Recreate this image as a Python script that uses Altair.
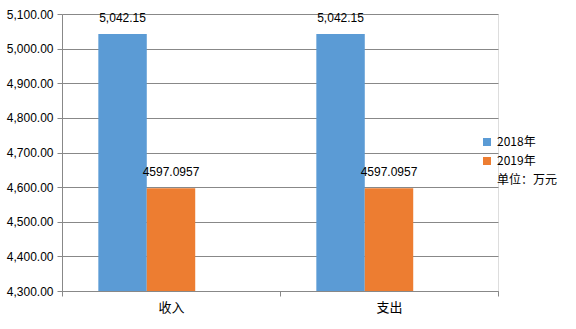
import altair as alt
import pandas as pd

categories = ["收入", "支出"]
series = ["2018年", "2019年", "单位：万元"]
values_2018 = [5042.15, 5042.15]
values_2019 = [4597.0957, 4597.0957]
labels_2018 = ["5,042.15", "5,042.15"]
labels_2019 = ["4597.0957", "4597.0957"]
y_ticks = [4300, 4400, 4500, 4600, 4700, 4800, 4900, 5000, 5100]
colors = ["#5B9BD5", "#ED7D31", "transparent"]

rows = []
for i, c in enumerate(categories):
    rows.append({"cat": c, "series": series[0], "value": values_2018[i], "label": labels_2018[i]})
    rows.append({"cat": c, "series": series[1], "value": values_2019[i], "label": labels_2019[i]})
df = pd.DataFrame(rows)

FONT = "Liberation Sans"
CJK = "Noto Sans CJK SC"

xo_scale = alt.Scale(domain=series, paddingInner=0, paddingOuter=0.75)
x_axis = alt.Axis(labelAngle=0, labelFont=CJK, labelFontSize=13, labelColor="#000",
                  tickBand="extent", tickSize=5, tickColor="#888", domainColor="#888",
                  labelPadding=5)
y_axis = alt.Axis(values=y_ticks, format=",.2f", labelFont=FONT, labelFontSize=12,
                  labelColor="#000", gridColor="#888", domainColor="#888",
                  tickColor="#888", tickSize=5, labelPadding=4, labelOverlap=False)
y_scale = alt.Scale(domain=[4300, 5100], zero=False, nice=False)

x = alt.X("cat:N", sort=categories, title=None,
          scale=alt.Scale(paddingInner=0, paddingOuter=0), axis=x_axis)
xo = alt.XOffset("series:N", scale=xo_scale)
y = alt.Y("value:Q", title=None, scale=y_scale, axis=y_axis)
color = alt.Color("series:N",
                  scale=alt.Scale(domain=series, range=colors),
                  legend=alt.Legend(title=None, orient="none", legendX=419, legendY=122,
                                    symbolType="square", symbolSize=64, symbolStrokeWidth=0,
                                    labelFont=CJK, labelFontSize=12, labelColor="#000",
                                    rowPadding=7, labelOffset=4, padding=0))

bars = alt.Chart(df).mark_bar(clip=True).encode(x=x, xOffset=xo, y=y, color=color)
text = alt.Chart(df).mark_text(baseline="bottom", dy=-9, font=FONT, fontSize=12, color="#000").encode(
    x=x, xOffset=xo, y=y, text="label:N")

chart = alt.layer(bars, text).properties(
    width=436, height=277,
    autosize=alt.AutoSizeParams(type="none"),
    padding={"left": 62, "top": 14, "right": 78, "bottom": 38},
).configure_view(stroke=None).configure(background="white")

chart.save("out.html", embed_options={"renderer": "svg", "actions": False})
